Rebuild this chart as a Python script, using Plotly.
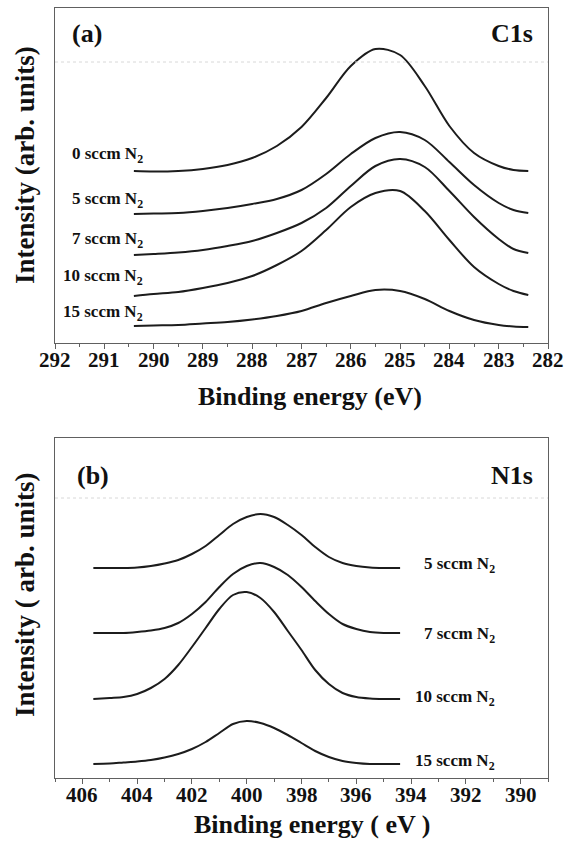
import plotly.graph_objects as go

# ---------------- data ----------------
# (a) C1s spectra, binding energy (eV) and intensity (arb. units)
c1s_x = [290.4, 290.0, 289.5, 289.0, 288.5, 288.0, 287.5, 287.0, 286.5, 286.0,
         285.5, 285.0, 284.5, 284.0, 283.5, 283.0, 282.7, 282.4]
c1s_0 = [172, 171.5, 172, 174, 178, 185, 197, 216, 245, 277, 294, 288, 257, 217, 190, 177, 173, 172]
c1s_5 = [129, 129.5, 130, 132, 135, 139, 144, 153, 169, 189, 205, 211, 203, 181, 158, 140, 133, 130]
c1s_7 = [88, 89, 90.5, 93, 97, 102, 110, 120, 135, 157, 177, 184, 176, 152, 126, 104, 94, 90]
c1s_10 = [47, 49, 51, 55, 60, 67, 78, 92, 113, 136, 150, 152, 132, 103, 76, 59, 52, 48]
c1s_15 = [17, 17.5, 18, 19.5, 21, 23.5, 27, 32, 40, 47, 53, 52, 44, 32, 23, 18, 16.5, 16]
c1s_names = ["0 sccm N<sub>2</sub>", "5 sccm N<sub>2</sub>", "7 sccm N<sub>2</sub>",
             "10 sccm N<sub>2</sub>", "15 sccm N<sub>2</sub>"]
c1s_ticks = [292, 291, 290, 289, 288, 287, 286, 285, 284, 283, 282]

# (b) N1s spectra
n1s_x = [405.6, 405.0, 404.5, 404.0, 403.5, 403.0, 402.5, 402.0, 401.5, 401.0, 400.5, 400.0,
         399.5, 399.0, 398.5, 398.0, 397.5, 397.0, 396.5, 396.0, 395.5, 395.0, 394.4]
n1s_5 = [204, 204, 204, 204.5, 206, 208.5, 212, 218, 226, 237, 248, 255,
         258, 255, 247, 237, 225, 215, 209, 206, 204.5, 204, 204]
n1s_7 = [139, 139, 139, 140, 141.5, 144, 149, 158, 170, 185, 198, 206,
         209, 205, 197, 185, 171, 158, 148, 143, 140, 139, 139]
n1s_10 = [73, 74, 75, 78, 84, 93, 107, 125, 144, 163, 177, 180,
          174, 160, 141, 122, 102, 88, 79, 75, 73.5, 73, 73]
n1s_15 = [8, 8.5, 9.5, 10.5, 12, 14.5, 18, 23, 30, 39, 48, 51,
          49, 44, 37, 29, 21, 15, 11, 9, 8, 8, 8]
n1s_names = ["5 sccm N<sub>2</sub>", "7 sccm N<sub>2</sub>",
             "10 sccm N<sub>2</sub>", "15 sccm N<sub>2</sub>"]
n1s_ticks = [406, 404, 402, 400, 398, 396, 394, 392, 390]

# ---------------- styling / layout ----------------
FONT = "Liberation Serif"
LINE = "#1c1c1c"
FRAME = "#606060"
TXT = "#111111"

W, H = 567, 841
top_box = (55, 548, 8, 343)       # left, right, top, bottom (px)
bot_box = (55, 548, 438, 778)


def xdom(bx):
    return [bx[0] / W, bx[1] / W]


def ydom(bx):
    return [1 - bx[3] / H, 1 - bx[2] / H]


fig = go.Figure()

for ys in [c1s_0, c1s_5, c1s_7, c1s_10, c1s_15]:
    fig.add_trace(go.Scatter(x=c1s_x, y=ys, mode="lines", xaxis="x", yaxis="y",
                             line=dict(color=LINE, width=2, shape="spline", smoothing=0.9),
                             showlegend=False, hoverinfo="skip"))
for ys in [n1s_5, n1s_7, n1s_10, n1s_15]:
    fig.add_trace(go.Scatter(x=n1s_x, y=ys, mode="lines", xaxis="x2", yaxis="y2",
                             line=dict(color=LINE, width=2, shape="spline", smoothing=0.9),
                             showlegend=False, hoverinfo="skip"))


def xaxis_cfg(dom, rng, anchor, ticks, minor_dtick, minor_t0):
    return dict(domain=dom, range=rng, anchor=anchor,
                tickmode="array", tickvals=ticks, showticklabels=False,
                showline=True, mirror=True, linecolor=FRAME, linewidth=1,
                showgrid=False, zeroline=False, ticks="outside", ticklen=5,
                tickwidth=1, tickcolor=FRAME,
                minor=dict(dtick=minor_dtick, tick0=minor_t0, ticks="outside",
                           ticklen=3, tickcolor=FRAME))


def yaxis_cfg(dom, rng, anchor):
    return dict(domain=dom, range=rng, anchor=anchor, showticklabels=False, ticks="",
                showline=True, mirror=True, linecolor=FRAME, linewidth=1,
                showgrid=False, zeroline=False)


fig.update_layout(
    width=W, height=H, margin=dict(l=0, r=0, t=0, b=0),
    paper_bgcolor="white", plot_bgcolor="white",
    font=dict(family=FONT, size=19, color=TXT),
    xaxis=xaxis_cfg(xdom(top_box), [292, 282], "y", c1s_ticks, 0.5, 282),
    yaxis=yaxis_cfg(ydom(top_box), [0, 335], "x"),
    xaxis2=xaxis_cfg(xdom(bot_box), [407, 389], "y2", n1s_ticks, 1, 389),
    yaxis2=yaxis_cfg(ydom(bot_box), [-6, 334], "x2"),
)

# faint dotted guide lines (scan artefacts in the original)
for xref, yref, yv in [("x", "y", 281), ("x2", "y2", 274)]:
    x0, x1 = (292, 282) if xref == "x" else (407, 389)
    fig.add_shape(type="line", xref=xref, yref=yref, x0=x0, x1=x1, y0=yv, y1=yv,
                  line=dict(color="#d8d8d8", width=1, dash="dot"))


def b(t):
    return "<b>%s</b>" % t


ann = []
# tick labels (bold serif), placed on the axis scale
tick_font = dict(family=FONT, size=21, color=TXT)
for t in c1s_ticks:
    ann.append(dict(x=t, y=1 - 360 / H, xref="x", yref="paper", text=b(t), showarrow=False,
                    xanchor="center", yanchor="middle", font=tick_font))
for t in n1s_ticks:
    ann.append(dict(x=t, y=1 - 795 / H, xref="x2", yref="paper", text=b(t), showarrow=False,
                    xanchor="center", yanchor="middle", font=tick_font))

lab_font = dict(family=FONT, size=17, color=TXT)
# sample labels, panel (a): right-aligned left of the curves
c1s_label_y = [188, 143, 103, 66, 30]
for name, yv in zip(c1s_names, c1s_label_y):
    ann.append(dict(x=290.17, y=yv, xref="x", yref="y", text=b(name),
                    showarrow=False, xanchor="right", yanchor="middle", font=lab_font))
# sample labels, panel (b): right of the curves
n1s_label_y = [207, 137, 74, 10]
for name, yv in zip(n1s_names, n1s_label_y):
    ann.append(dict(x=390.86, y=yv, xref="x2", yref="y2", text=b(name),
                    showarrow=False, xanchor="right", yanchor="middle", font=lab_font))

big = dict(family=FONT, size=26, color=TXT)

ann += [
    dict(x=70 / W, y=1 - 33 / H, xref="paper", yref="paper", text=b("(a)"), showarrow=False,
         xanchor="left", yanchor="middle", font=big),
    dict(x=535 / W, y=1 - 33 / H, xref="paper", yref="paper", text=b("C1s"), showarrow=False,
         xanchor="right", yanchor="middle", font=big),
    dict(x=75 / W, y=1 - 475 / H, xref="paper", yref="paper", text=b("(b)"), showarrow=False,
         xanchor="left", yanchor="middle", font=big),
    dict(x=535 / W, y=1 - 475 / H, xref="paper", yref="paper", text=b("N1s"), showarrow=False,
         xanchor="right", yanchor="middle", font=big),
    dict(x=310 / W, y=1 - 397 / H, xref="paper", yref="paper", text=b("Binding energy (eV)"),
         showarrow=False, xanchor="center", yanchor="middle", font=big),
    dict(x=312 / W, y=1 - 824 / H, xref="paper", yref="paper", text=b("Binding energy ( eV )"),
         showarrow=False, xanchor="center", yanchor="middle", font=big),
    dict(x=25 / W, y=1 - 165 / H, xref="paper", yref="paper", text=b("Intensity (arb. units)"),
         showarrow=False, textangle=-90, xanchor="center", yanchor="middle",
         font=dict(big, size=27)),
    dict(x=25 / W, y=1 - 595 / H, xref="paper", yref="paper", text=b("Intensity ( arb. units)"),
         showarrow=False, textangle=-90, xanchor="center", yanchor="middle",
         font=dict(big, size=27)),
]
fig.update_layout(annotations=ann)

fig.write_html("out.html")
